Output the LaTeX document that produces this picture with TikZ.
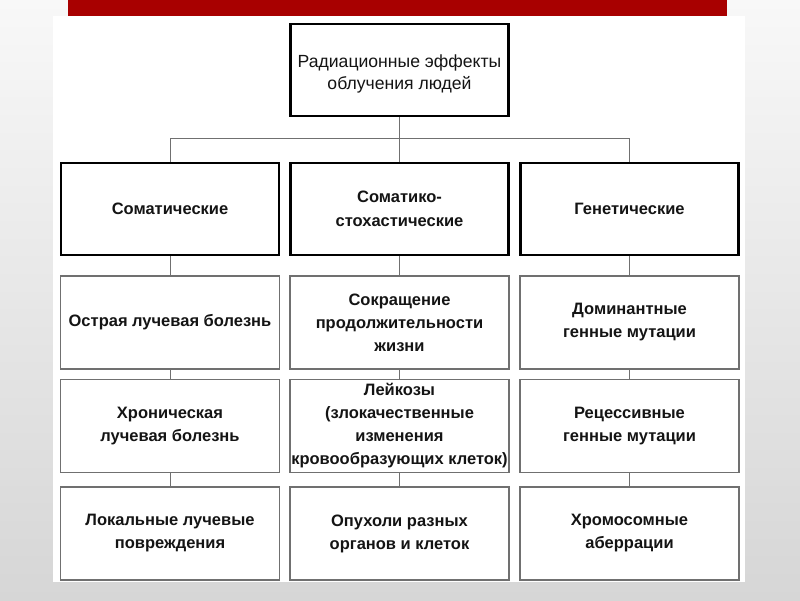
\documentclass[tikz,border=0pt]{standalone}
\usepackage{fontspec}
\setmainfont{Liberation Sans}
\usepackage{xcolor}
\usepackage{tikz}
\usetikzlibrary{positioning}
\definecolor{rougebarre}{RGB}{168, 0, 0}
\definecolor{grisfond}{RGB}{214, 214, 214}
\definecolor{grisclair}{RGB}{248, 248, 248}
\definecolor{gristrait}{RGB}{112, 112, 112}
\definecolor{encre}{RGB}{20, 20, 20}

\begin{document}
\begin{tikzpicture}[x=1pt, y=-1pt, text=encre,
    racine/.style={draw=black, line width=2.6pt, fill=white, inner sep=0pt, align=center,
      minimum width=218pt, minimum height=92pt, font=\fontsize{17.6}{22}\selectfont},
    groupe/.style={racine, font=\fontsize{16.5}{24}\selectfont\bfseries},
    effet/.style={draw=gristrait, line width=1.2pt, fill=white, inner sep=0pt, align=center,
      minimum width=219pt, minimum height=93pt, font=\fontsize{16.5}{23}\selectfont\bfseries},
    lien/.style={draw=gristrait, line width=0.9pt}]
    \useasboundingbox (0,0) rectangle (800,600);
    % fond de la diapositive
    \shade[top color=grisclair, bottom color=grisfond] (0,0) rectangle (800,600);
    \fill[white] (53,16) rectangle (745,582);
    \fill[rougebarre] (68,0) rectangle (727,16);

    % sommet
    \node[racine] (effets) at (399.5,70) {\raisebox{-4pt}[\height][\depth]{\begin{tabular}{@{}c@{}}Радиационные эффекты\\облучения людей\end{tabular}}};

    % trois familles
    \node[groupe] (soma) at (170,209) {Соматические};
    \node[groupe] (stoch) at (399.5,209) {Соматико-\\стохастические};
    \node[groupe] (gene) at (629.5,209) {Генетические};

    % effets par famille
    \node[effet] (soma1) at (170,322.5) {Острая лучевая болезнь};
    \node[effet] (soma2) at (170,426) {Хроническая\\лучевая болезнь};
    \node[effet] (soma3) at (170,533.5) {Локальные лучевые\\повреждения};
    \node[effet] (stoch1) at (399.5,322.5) {Сокращение\\продолжительности\\жизни};
    \node[effet] (stoch2) at (399.5,426) {Лейкозы\\(злокачественные\\изменения\\кровообразующих клеток)};
    \node[effet] (stoch3) at (399.5,533.5) {Опухоли разных\\органов и клеток};
    \node[effet] (gene1) at (629.5,322.5) {Доминантные\\генные мутации};
    \node[effet] (gene2) at (629.5,426) {Рецессивные\\генные мутации};
    \node[effet] (gene3) at (629.5,533.5) {Хромосомные\\аберрации};

    % liaisons
    \draw[lien] (effets.south) -- ++(0,21) coordinate (bus);
    \draw[lien] (soma.north) |- (bus) -| (gene.north);
    \draw[lien] (bus) -- (stoch.north);
    \foreach \col in {soma, stoch, gene} {
      \draw[lien] (\col.south) -- (\col1.north);
      \draw[lien] (\col1.south) -- (\col2.north);
      \draw[lien] (\col2.south) -- (\col3.north);
    }
  \end{tikzpicture}
\end{document}
